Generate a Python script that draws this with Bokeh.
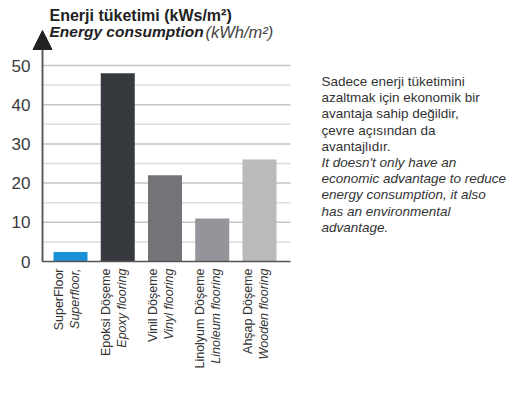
from bokeh.plotting import figure
from bokeh.models import Range1d, FixedTicker, Arrow, NormalHead, ColumnDataSource, LinearAxis
from bokeh.core.properties import value
from bokeh.embed import file_html
from bokeh.resources import INLINE

# ---- data ----
labels_tr = ["SuperFloor", "Epoksi Döşeme", "Vinil Döşeme", "Linolyum Döşeme", "Ahşap Döşeme"]
labels_en = ["Superfloor,", "Epoxy flooring", "Vinyl flooring", "Linoleum flooring", "Wooden flooring"]
energy = [2.4, 48, 22, 11, 26]
bar_colors = ["#1a8fd5", "#36393e", "#737378", "#96939a", "#bababa"]
y_ticks = [0, 10, 20, 30, 40, 50]
grid_minor = [5, 15, 25, 35, 45]
grid_major = [10, 20, 30, 40, 50]
title_tr = "Enerji tüketimi (kWs/m²)"
title_en_bold = "Energy consumption"
title_en_unit = "(kWh/m²)"
note_tr = ["Sadece enerji tüketimini", "azaltmak için ekonomik bir",
           "avantaja sahip değildir,", "çevre açısından da", "avantajlıdır."]
note_en = ["It doesn't only have an", "economic advantage to reduce",
           "energy consumption, it also", "has an environmental", "advantage."]

W, H = 512, 402
STEP = 47.25       # px per category
PX0 = 70           # px of first bar centre
PPU = 3.92         # px per y unit
Y0 = 261           # px of y=0

xs = -PX0 / STEP
xe = xs + W / STEP
ys = -(H - Y0) / PPU
ye = Y0 / PPU

def dx(px):
    return xs + px / STEP

def dy(py):
    return (Y0 - py) / PPU

FONT = value("Liberation Sans")

p = figure(width=W, height=H, output_backend="svg", toolbar_location=None,
           x_axis_type=None, y_axis_type=None,
           x_range=Range1d(xs, xe), y_range=Range1d(ys, ye),
           min_border_left=0, min_border_right=0, min_border_top=0, min_border_bottom=0)
p.outline_line_color = None
p.background_fill_color = "white"

x_axis = dx(42)
grid_end = dx(290)

p.segment(x0=x_axis, x1=grid_end, y0=grid_minor, y1=grid_minor, line_color="#dddddd", line_width=1.5)
p.segment(x0=x_axis, x1=grid_end, y0=grid_major, y1=grid_major, line_color="#c4c4c4", line_width=1.5)

idx = list(range(len(energy)))
src = ColumnDataSource(dict(x=idx, top=energy, color=bar_colors, tr=labels_tr, en=labels_en))
p.vbar(x="x", top="top", bottom=0, width=34 / STEP, fill_color="color", line_color=None, source=src)

p.segment(x0=x_axis, x1=grid_end, y0=0, y1=0, line_color="#555555", line_width=1.5)

ax = LinearAxis(fixed_location=x_axis, ticker=FixedTicker(ticks=y_ticks), bounds=(0, dy(48)))
ax.major_tick_line_color = None
ax.minor_tick_line_color = None
ax.axis_line_color = "#555555"
ax.axis_line_width = 1.5
ax.major_label_text_font = "Liberation Sans"
ax.major_label_text_font_size = "17px"
ax.major_label_text_color = "#3a3a3a"
ax.major_label_standoff = 6
p.add_layout(ax, "left")

p.add_layout(Arrow(end=NormalHead(size=19, fill_color="#222222", line_color="#222222"),
                   x_start=x_axis, y_start=0, x_end=x_axis, y_end=dy(30),
                   line_color="#555555", line_width=1.5))

p.text(x="x", y=0, text="tr", source=src, angle=1.5708, text_align="right",
       text_baseline="middle", x_offset=-12, y_offset=7, text_font=FONT,
       text_font_size="12.5px", text_color="#333333")
p.text(x="x", y=0, text="en", source=src, angle=1.5708, text_align="right",
       text_baseline="middle", x_offset=4, y_offset=7, text_font=FONT,
       text_font_size="12.5px", text_font_style="italic", text_color="#333333")

p.text(x=[dx(49)], y=[dy(15)], text=[title_tr], text_font=FONT, text_font_size="16px",
       text_font_style="bold", text_color="#222222", text_baseline="alphabetic")
p.text(x=[dx(49)], y=[dy(31)], text=[title_en_bold], text_font=FONT, text_font_size="15.5px",
       text_font_style="bold italic", text_color="#222222", text_baseline="alphabetic")
p.text(x=[dx(205)], y=[dy(31)], text=[title_en_unit], text_font=FONT, text_font_size="16.5px",
       text_font_style="italic", text_color="#444444", text_baseline="alphabetic")

note_y = [dy(81 + 16.2 * i) for i in range(len(note_tr) + len(note_en))]
p.text(x=[dx(321)] * len(note_tr), y=note_y[:len(note_tr)], text=note_tr, text_font=FONT,
       text_font_size="13.5px", text_color="#333333", text_baseline="alphabetic")
p.text(x=[dx(321)] * len(note_en), y=note_y[len(note_tr):], text=note_en, text_font=FONT,
       text_font_size="13.5px", text_font_style="italic", text_color="#333333",
       text_baseline="alphabetic")

open("out.html", "w").write(file_html(p, INLINE))
